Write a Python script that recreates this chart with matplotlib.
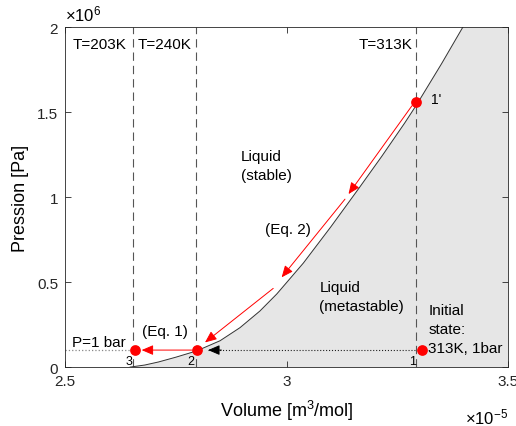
"""P-V diagram: stable / metastable liquid, isotherms and process path."""

import matplotlib
matplotlib.use('Agg')
import matplotlib.pyplot as plt

plt.rcParams['font.family'] = ['Liberation Sans', 'DejaVu Sans']
plt.rcParams['mathtext.fontset'] = 'custom'
plt.rcParams['mathtext.rm'] = 'Liberation Sans'
plt.rcParams['mathtext.it'] = 'Liberation Sans:italic'
plt.rcParams['font.size'] = 11

# volume in 1e-5 m3/mol, pressure in 1e6 Pa
curve_v = [2.647, 2.68, 2.711, 2.75, 2.797, 2.85, 2.895, 2.94, 2.978, 3.038,
           3.10, 3.162, 3.215, 3.267, 3.294, 3.35, 3.398]
curve_p = [0.0, 0.012, 0.030, 0.058, 0.095, 0.155, 0.232, 0.33, 0.43, 0.612,
           0.825, 1.047, 1.240, 1.437, 1.545, 1.785, 2.0]

iso_v = [2.654, 2.795, 3.292]
iso_labels = ['T=203K', 'T=240K', 'T=313K']

state_names = ['1', "1'", '2', '3']
state_v = [3.305, 3.293, 2.797, 2.658]
state_p = [0.1, 1.557, 0.1, 0.1]

# red arrows along the curve (Eq. 2) then 2 -> 3 (Eq. 1)
red_arrows = [
    ((3.283, 1.537), (3.140, 1.018)),
    ((3.132, 0.988), (2.989, 0.528)),
    ((2.970, 0.463), (2.816, 0.145)),
    ((2.786, 0.1), (2.673, 0.1)),
]
# dotted path 1 -> 2
black_start = (3.290, 0.1)
black_tip = (2.823, 0.1)

xticks = [2.5, 3.0, 3.5]
yticks = [0, 0.5, 1.0, 1.5, 2.0]

fig = plt.figure(figsize=(5.16, 4.27), dpi=100)
ax = fig.add_axes([0.126, 0.138, 0.8585, 0.796])

ax.fill(curve_v + [3.5, 3.5], curve_p + [2.0, 0.0], color='#e6e6e6', lw=0, zorder=0)
ax.plot(curve_v, curve_p, color='#333333', lw=0.7, zorder=2)

for v in iso_v:
    ax.axvline(v, color='#555555', lw=0.8, dashes=(7.5, 4.5), zorder=1)

ax.plot([2.5, state_v[3]], [0.1, 0.1], color='#888888', lw=0.9, ls=':', zorder=1)
ax.plot([black_start[0], black_tip[0]], [black_start[1], black_tip[1]],
        color='#222222', lw=0.8, ls=':', zorder=2)
ax.annotate('', xy=black_tip, xytext=(black_tip[0] + 0.03, black_tip[1]),
            arrowprops=dict(arrowstyle='-|>,head_length=0.7,head_width=0.3',
                            color='black', lw=0.7, mutation_scale=10,
                            shrinkA=0, shrinkB=0), zorder=3)

for start, tip in red_arrows:
    ax.annotate('', xy=tip, xytext=start,
                arrowprops=dict(arrowstyle='-|>,head_length=0.7,head_width=0.3',
                                color='red', lw=0.7, mutation_scale=10,
                                shrinkA=0, shrinkB=0), zorder=3)

ax.plot(state_v, state_p, 'o', color='red', ms=6.7, mec='red', zorder=4)

# labels
ax.text(2.517, 1.9, iso_labels[0], va='center', ha='left')
ax.text(2.663, 1.9, iso_labels[1], va='center', ha='left')
ax.text(3.285, 1.9, iso_labels[2], va='center', ha='right')

ax.text(3.326, 1.576, "1'", va='center', ha='left', fontsize=10)
ax.text(3.293, 0.035, '1', va='center', ha='right', fontsize=9)
ax.text(2.792, 0.035, '2', va='center', ha='right', fontsize=9)
ax.text(2.652, 0.035, '3', va='center', ha='right', fontsize=9)

ax.text(2.897, 1.188, 'Liquid\n(stable)', va='center', ha='left', linespacing=1.45)
ax.text(2.951, 0.812, '(Eq. 2)', va='center', ha='left')
ax.text(3.074, 0.415, 'Liquid\n(metastable)', va='center', ha='left', linespacing=1.45)
ax.text(3.320, 0.226, 'Initial\nstate:\n313K, 1bar', va='center', ha='left', linespacing=1.45)
ax.text(2.673, 0.2135, '(Eq. 1)', va='center', ha='left')
ax.text(2.515, 0.149, 'P=1 bar', va='center', ha='left')

ax.set_xlim(2.5, 3.5)
ax.set_ylim(0, 2.0)
ax.set_xticks(xticks)
ax.set_yticks(yticks)
ax.set_xticklabels(['%g' % t for t in xticks])
ax.set_yticklabels(['%g' % t for t in yticks])
ax.tick_params(direction='in', top=True, right=True, length=4, width=0.6,
               colors='#262626', labelsize=11, pad=5)
for s in ax.spines.values():
    s.set_linewidth(0.6)
    s.set_color('#262626')

ax.set_xlabel('Volume [m$^3$/mol]', fontsize=13, labelpad=7)
ax.set_ylabel('Pression [Pa]', fontsize=13, labelpad=6)
ax.text(0.0, 1.012, '×10$^{6}$', transform=ax.transAxes, ha='left', va='bottom', fontsize=12)
ax.text(1.0, -0.115, '×10$^{-5}$', transform=ax.transAxes, ha='right', va='top', fontsize=12)

fig.savefig('out.png', dpi=100)
